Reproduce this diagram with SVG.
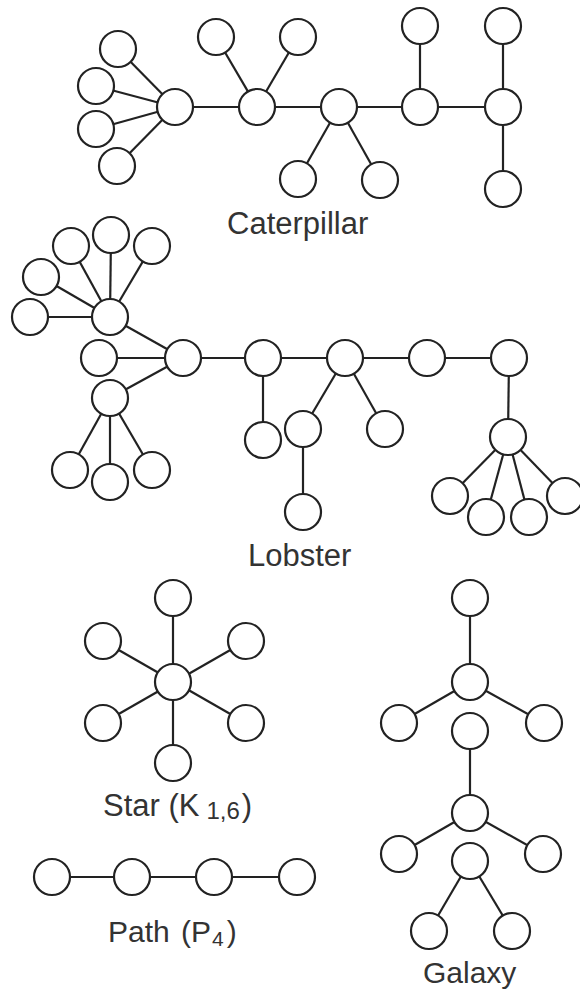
<svg xmlns="http://www.w3.org/2000/svg" width="580" height="1001" viewBox="0 0 580 1001">
<style>
.e line{stroke:#222;stroke-width:2.2;fill:none}
.n circle{fill:#fff;stroke:#222;stroke-width:2.2}
.lbl{font-family:"Liberation Sans",Arial,sans-serif;font-size:31px;fill:#333}
</style>
<rect width="580" height="1001" fill="#fff"/>
<g id="connectors" class="e">
<!-- caterpillar -->
<line x1="175" y1="107" x2="118" y2="49"/>
<line x1="175" y1="107" x2="96" y2="86"/>
<line x1="175" y1="107" x2="96" y2="129"/>
<line x1="175" y1="107" x2="117" y2="166"/>
<line x1="175" y1="107" x2="503" y2="107"/>
<line x1="257" y1="107" x2="216" y2="37"/>
<line x1="257" y1="107" x2="298" y2="37"/>
<line x1="339" y1="107" x2="298" y2="179"/>
<line x1="339" y1="107" x2="380" y2="180"/>
<line x1="420" y1="107" x2="420" y2="26"/>
<line x1="503" y1="26" x2="503" y2="189"/>
<!-- lobster -->
<line x1="110" y1="317" x2="30" y2="317"/>
<line x1="110" y1="317" x2="41" y2="277"/>
<line x1="110" y1="317" x2="71" y2="246"/>
<line x1="110" y1="317" x2="111" y2="235"/>
<line x1="110" y1="317" x2="152" y2="246"/>
<line x1="110" y1="317" x2="183" y2="358"/>
<line x1="99" y1="358" x2="509" y2="358"/>
<line x1="183" y1="358" x2="110" y2="398"/>
<line x1="110" y1="398" x2="70" y2="470"/>
<line x1="110" y1="398" x2="110" y2="482"/>
<line x1="110" y1="398" x2="152" y2="470"/>
<line x1="263" y1="358" x2="263" y2="440"/>
<line x1="345" y1="358" x2="303" y2="429"/>
<line x1="345" y1="358" x2="385" y2="429"/>
<line x1="303" y1="429" x2="303" y2="512"/>
<line x1="509" y1="358" x2="508" y2="437"/>
<line x1="508" y1="437" x2="450" y2="496"/>
<line x1="508" y1="437" x2="486" y2="517"/>
<line x1="508" y1="437" x2="529" y2="517"/>
<line x1="508" y1="437" x2="565" y2="496"/>
<!-- star -->
<line x1="173" y1="598" x2="173" y2="763"/>
<line x1="103" y1="641" x2="246" y2="723"/>
<line x1="103" y1="723" x2="246" y2="641"/>
<!-- path -->
<line x1="52" y1="877" x2="297" y2="877"/>
<!-- galaxy -->
<line x1="470" y1="598" x2="470" y2="682"/>
<line x1="470" y1="682" x2="399" y2="723"/>
<line x1="470" y1="682" x2="544" y2="723"/>
<line x1="470" y1="731" x2="470" y2="813"/>
<line x1="470" y1="813" x2="399" y2="854"/>
<line x1="470" y1="813" x2="543" y2="854"/>
<line x1="470" y1="861" x2="429" y2="931"/>
<line x1="470" y1="861" x2="512" y2="931"/>
</g>
<g id="caterpillar" class="n">
<circle cx="175" cy="107" r="18"/>
<circle cx="118" cy="49" r="18"/>
<circle cx="96" cy="86" r="18"/>
<circle cx="96" cy="129" r="18"/>
<circle cx="117" cy="166" r="18"/>
<circle cx="257" cy="107" r="18"/>
<circle cx="216" cy="37" r="18"/>
<circle cx="298" cy="37" r="18"/>
<circle cx="339" cy="107" r="18"/>
<circle cx="298" cy="179" r="18"/>
<circle cx="380" cy="180" r="18"/>
<circle cx="420" cy="107" r="18"/>
<circle cx="420" cy="26" r="18"/>
<circle cx="503" cy="107" r="18"/>
<circle cx="503" cy="26" r="18"/>
<circle cx="503" cy="189" r="18"/>
</g>
<g id="lobster" class="n">
<circle cx="110" cy="317" r="18"/>
<circle cx="30" cy="317" r="18"/>
<circle cx="41" cy="277" r="18"/>
<circle cx="71" cy="246" r="18"/>
<circle cx="111" cy="235" r="18"/>
<circle cx="152" cy="246" r="18"/>
<circle cx="183" cy="358" r="18"/>
<circle cx="99" cy="358" r="18"/>
<circle cx="110" cy="398" r="18"/>
<circle cx="70" cy="470" r="18"/>
<circle cx="110" cy="482" r="18"/>
<circle cx="152" cy="470" r="18"/>
<circle cx="263" cy="358" r="18"/>
<circle cx="263" cy="440" r="18"/>
<circle cx="345" cy="358" r="18"/>
<circle cx="303" cy="429" r="18"/>
<circle cx="303" cy="512" r="18"/>
<circle cx="385" cy="429" r="18"/>
<circle cx="427" cy="358" r="18"/>
<circle cx="509" cy="358" r="18"/>
<circle cx="508" cy="437" r="18"/>
<circle cx="450" cy="496" r="18"/>
<circle cx="486" cy="517" r="18"/>
<circle cx="529" cy="517" r="18"/>
<circle cx="565" cy="496" r="18"/>
</g>
<g id="star" class="n">
<circle cx="173" cy="682" r="18"/>
<circle cx="173" cy="598" r="18"/>
<circle cx="103" cy="641" r="18"/>
<circle cx="246" cy="641" r="18"/>
<circle cx="103" cy="723" r="18"/>
<circle cx="246" cy="723" r="18"/>
<circle cx="173" cy="763" r="18"/>
</g>
<g id="path" class="n">
<circle cx="52" cy="877" r="18"/>
<circle cx="132" cy="877" r="18"/>
<circle cx="214" cy="877" r="18"/>
<circle cx="297" cy="877" r="18"/>
</g>
<g id="galaxy" class="n">
<circle cx="470" cy="598" r="18"/>
<circle cx="470" cy="682" r="18"/>
<circle cx="399" cy="723" r="18"/>
<circle cx="544" cy="723" r="18"/>
<circle cx="470" cy="731" r="18"/>
<circle cx="470" cy="813" r="18"/>
<circle cx="399" cy="854" r="18"/>
<circle cx="543" cy="854" r="18"/>
<circle cx="470" cy="861" r="18"/>
<circle cx="429" cy="931" r="18"/>
<circle cx="512" cy="931" r="18"/>
</g>
<g id="labels" class="lbl">
<text x="227" y="234">Caterpillar</text>
<text x="248" y="566">Lobster</text>
<text x="103" y="816">Star (K<tspan font-size="24" dx="7" dy="3">1,6</tspan><tspan dx="2" dy="-3">)</tspan></text>
<text x="108" y="942" font-size="30">Path <tspan dx="3">(P</tspan><tspan font-size="21" dx="1" dy="4">4</tspan><tspan dx="3" dy="-4">)</tspan></text>
<text x="423" y="983" font-size="30">Galaxy</text>
</g>
</svg>
